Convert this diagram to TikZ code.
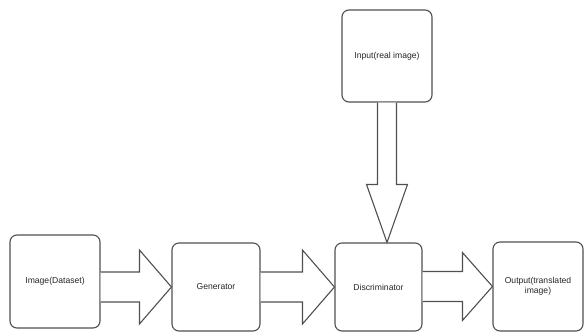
\documentclass[tikz,border=0pt]{standalone}
\usepackage{fontspec}
\setmainfont{Liberation Sans}
\usetikzlibrary{positioning, calc}
\definecolor{linegray}{RGB}{80,80,80}

\begin{document}
\begin{tikzpicture}[
        x=1pt, y=1pt,
        block/.style={rectangle, draw=linegray, line width=1.1pt, fill=white, rounded corners=7pt, align=center, text=black!85, font=\fontsize{8.6}{10}\selectfont, inner sep=1pt},
        blockarrow/.style={draw=linegray, line width=1.1pt, fill=white, line join=miter}
    ]
        \useasboundingbox (0,0) rectangle (584,333);

        \node[block, minimum width=90, minimum height=93] (img) at (55,51.5) {Image(Dataset)};
        \node[block, minimum width=88, minimum height=88] (gen) at (216,46) {Generator};
        \node[block, minimum width=87, minimum height=88] (disc) at (378.5,46) {Discriminator};
        \node[block, minimum width=90, minimum height=89] (out) at (538,46.5) {Output(translated\\image)};
        \node[block, minimum width=90, minimum height=92] (inp) at (387,277) {Input(real image)};

        % image -> generator
        \draw[blockarrow] ($(img.east |- gen.west)+(0,15)$) -- ($(gen.west)+(-32,15)$) -- ($(gen.west)+(-32,37)$)
            -- (gen.west) -- ($(gen.west)+(-32,-37)$) -- ($(gen.west)+(-32,-15)$) -- ($(img.east |- gen.west)+(0,-15)$);
        % generator -> discriminator
        \draw[blockarrow] ($(gen.east |- disc.west)+(0,15)$) -- ($(disc.west)+(-32,15)$) -- ($(disc.west)+(-32,37)$)
            -- (disc.west) -- ($(disc.west)+(-32,-37)$) -- ($(disc.west)+(-32,-15)$) -- ($(gen.east |- disc.west)+(0,-15)$);
        % discriminator -> output
        \draw[blockarrow] ($(disc.east |- out.west)+(0,15)$) -- ($(out.west)+(-30,15)$) -- ($(out.west)+(-30,34)$)
            -- (out.west) -- ($(out.west)+(-30,-34)$) -- ($(out.west)+(-30,-15)$) -- ($(disc.east |- out.west)+(0,-15)$);
        % input -> discriminator
        \coordinate (dtop) at (inp.south |- disc.north);
        \draw[blockarrow] ($(inp.south)+(-9.5,0)$) -- ($(dtop)+(-9.5,58)$) -- ($(dtop)+(-20.5,58)$)
            -- (dtop) -- ($(dtop)+(20.5,58)$) -- ($(dtop)+(9.5,58)$) -- ($(inp.south)+(9.5,0)$);
    \end{tikzpicture}
\end{document}
